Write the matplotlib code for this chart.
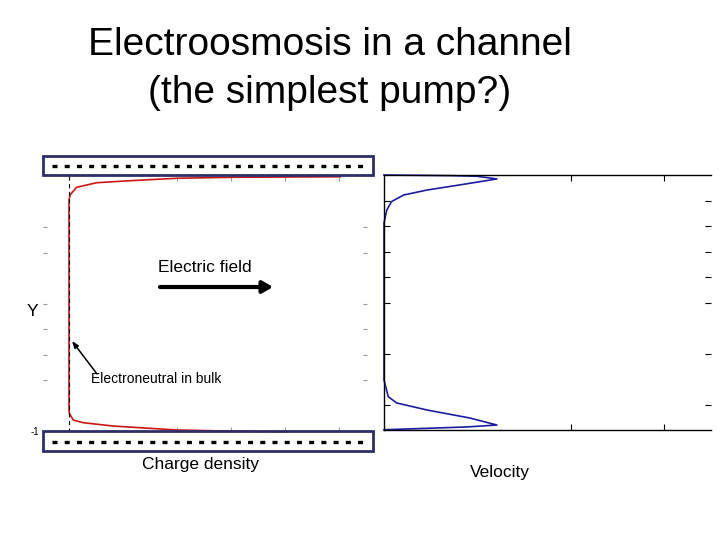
import matplotlib
matplotlib.use("Agg")
import matplotlib.pyplot as plt
from matplotlib.patches import Rectangle

plt.rcParams["font.family"] = ["Liberation Sans", "DejaVu Sans"]
plt.rcParams["lines.scale_dashes"] = False

# charge density profile across the channel (left panel)
rho = [5.02, 3.04, 1.99, 1.13, 0.51, 0.14, 0.02, 0.0, 0.0,
       0.006, 0.08, 0.265, 0.82, 1.99, 2.67, 4.03]
rho_y = [0.998, 0.994, 0.986, 0.967, 0.951, 0.915, 0.855, 0.815, -0.84,
         -0.861, -0.914, -0.935, -0.961, -0.992, -0.998, -1.005]

# velocity profile across the channel (right panel)
vel = [0.0, 0.71, 1.0, 1.21, 0.81, 0.46, 0.21, 0.08, 0.03, 0.0,
       0.0, 0.046, 0.136, 0.46, 0.92, 1.21, 0.89, 0.57, 0.0]
vel_y = [1.0, 0.995, 0.99, 0.969, 0.922, 0.882, 0.843, 0.791, 0.725, 0.624,
         -0.608, -0.739, -0.788, -0.843, -0.906, -0.961, -0.976, -0.984, -0.998]

left_yticks = [0.6, 0.4, 0.0, -0.2, -0.4, -0.6, -1.0]
left_yticklabels = ["", "", "", "", "", "", "-1"]
left_xticks = [2, 3, 4, 5]
right_yticks = [0.8, 0.6, 0.4, 0.2, 0.0, -0.4, -0.8]
right_xticks = [2, 3]

W, H = 720, 540
fig = plt.figure(figsize=(7.2, 5.4), dpi=100)


def box(x0, y0, x1, y1):
    return [x0 / W, 1 - y1 / H, (x1 - x0) / W, (y1 - y0) / H]


# left panel: charge density
ax1 = fig.add_axes(box(43, 176.5, 367, 431))
ax1.plot(rho, rho_y, color="#cc1515", lw=1.2, clip_on=False)
ax1.plot([0, 0], [1.005, -1.0], color="black", lw=0.8, dashes=[3, 2.5], clip_on=False)
ax1.set_xlim(-26 / 54, 298 / 54)
ax1.set_ylim(-1, 1)
for s in ax1.spines.values():
    s.set_visible(False)
ax1.set_yticks(left_yticks)
ax1.set_yticklabels(left_yticklabels, fontsize=7)
ax1.set_xticks(left_xticks)
ax1.set_xticklabels([])
ax1.tick_params(direction="in", length=3, width=0.8, color="#9a9a9a",
                top=True, right=True, pad=3)

# right panel: velocity
ax2 = fig.add_axes(box(384, 175, 711, 430))
ax2.plot(vel, vel_y, color="#1c1ca0", lw=1.2, clip_on=False)
ax2.set_xlim(0, 327 / 93.3)
ax2.set_ylim(-1, 1)
ax2.spines["right"].set_visible(False)
for k in ["left", "top", "bottom"]:
    ax2.spines[k].set_linewidth(1.0)
ax2.set_xticks(right_xticks)
ax2.set_yticks(right_yticks)
ax2.set_xticklabels([])
ax2.set_yticklabels([])
ax2.tick_params(direction="in", length=4, width=0.8, top=True, right=True)

# overlay in pixel coordinates for slide decorations
ov = fig.add_axes([0, 0, 1, 1])
ov.set_xlim(0, W)
ov.set_ylim(H, 0)
ov.axis("off")

navy = "#2e2e68"
for y0, y1, yd in [(156, 175, 166), (431, 451, 442)]:
    ov.add_patch(Rectangle((43, y0), 330, y1 - y0, fill=False, ec=navy, lw=2.0))
    ov.plot([52, 364], [yd, yd], color="black", lw=2.4, dashes=[3.6, 5.2],
            solid_capstyle="butt", dash_capstyle="butt")

ov.text(330, 45, "Electroosmosis in a channel", ha="center", va="center", fontsize=28)
ov.text(330, 93, "(the simplest pump?)", ha="center", va="center", fontsize=28)

ov.text(205, 268, "Electric field", ha="center", va="center", fontsize=12.5)
ov.annotate("", xy=(273, 287), xytext=(160, 287),
            arrowprops=dict(arrowstyle="-|>,head_width=0.35,head_length=0.6",
                            lw=3, color="black", shrinkA=0, shrinkB=0))
ov.text(91, 379, "Electroneutral in bulk", ha="left", va="center", fontsize=10)
ov.annotate("", xy=(72, 341), xytext=(97, 374),
            arrowprops=dict(arrowstyle="-|>,head_width=0.15,head_length=0.4",
                            lw=1.1, color="black", shrinkA=0, shrinkB=0))
ov.text(32, 312, "Y", ha="center", va="center", fontsize=12.5)
ov.text(200, 465, "Charge density", ha="center", va="center", fontsize=12.5)
ov.text(500, 472, "Velocity", ha="center", va="center", fontsize=12.5)

fig.savefig("out.png", dpi=100)
